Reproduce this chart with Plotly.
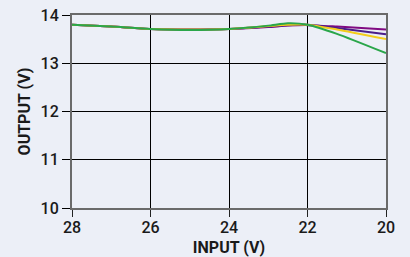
import plotly.graph_objects as go

x_in = [28, 27, 26, 25, 24, 23, 22.5, 22, 21.25, 20]
purple = [13.80, 13.76, 13.71, 13.70, 13.71, 13.75, 13.78, 13.79, 13.76, 13.70]
navy = [13.80, 13.76, 13.71, 13.70, 13.71, 13.76, 13.79, 13.80, 13.73, 13.60]
yellow = [13.80, 13.76, 13.71, 13.70, 13.71, 13.77, 13.80, 13.80, 13.70, 13.50]
green = [13.80, 13.76, 13.71, 13.69, 13.71, 13.78, 13.83, 13.80, 13.61, 13.21]

series = [("purple", purple, "#800a82"), ("navy", navy, "#4a1d8a"),
          ("yellow", yellow, "#f3cc1c"), ("green", green, "#2aa64a")]

x_ticks = [28, 26, 24, 22, 20]
y_ticks = [10, 11, 12, 13, 14]

fig = go.Figure()
for name, ys, col in series:
    fig.add_trace(go.Scatter(x=x_in, y=ys, mode="lines", name=name, hoverinfo="skip",
                             line=dict(color=col, width=2, shape="spline", smoothing=0.6)))

bg = "#eceff7"
fnt = dict(family="Roboto", size=16, color="#1a1a1a")
fig.update_layout(
    width=410, height=257, margin=dict(l=72, r=24, t=15, b=49, autoexpand=False),
    paper_bgcolor=bg, plot_bgcolor=bg, showlegend=False, font=fnt,
)
fig.update_xaxes(range=[28, 20], tickvals=x_ticks, showgrid=True, gridcolor="#000000", gridwidth=1,
                 showline=True, linecolor="#6a6a6a", linewidth=2, mirror=True,
                 ticks="outside", ticklen=7, tickcolor="#222222", tickwidth=1, automargin=False,
                 ticklabelstandoff=-3, ticklabeloverflow="allow",
                 tickfont=dict(family="Roboto", size=16, color="#1a1a1a", weight=500),
                 title=dict(text="INPUT (V)", font=dict(family="Roboto", size=16, color="#1a1a1a", weight=700)),
                 zeroline=False)
fig.update_yaxes(range=[10, 14], tickvals=y_ticks, showgrid=True, gridcolor="#000000", gridwidth=1,
                 showline=True, linecolor="#6a6a6a", linewidth=2, mirror=True,
                 ticks="outside", ticklen=8, tickcolor="#000000", tickwidth=1, automargin=False,
                 ticklabeloverflow="allow",
                 tickfont=dict(family="Roboto", size=16, color="#1a1a1a", weight=500),
                 title=dict(text="OUTPUT (V)", font=dict(family="Roboto", size=16, color="#1a1a1a", weight=700),
                            standoff=6),
                 zeroline=False)
fig.write_html("out.html", config={"displayModeBar": False},
               post_script="document.body.style.margin='0px';")
